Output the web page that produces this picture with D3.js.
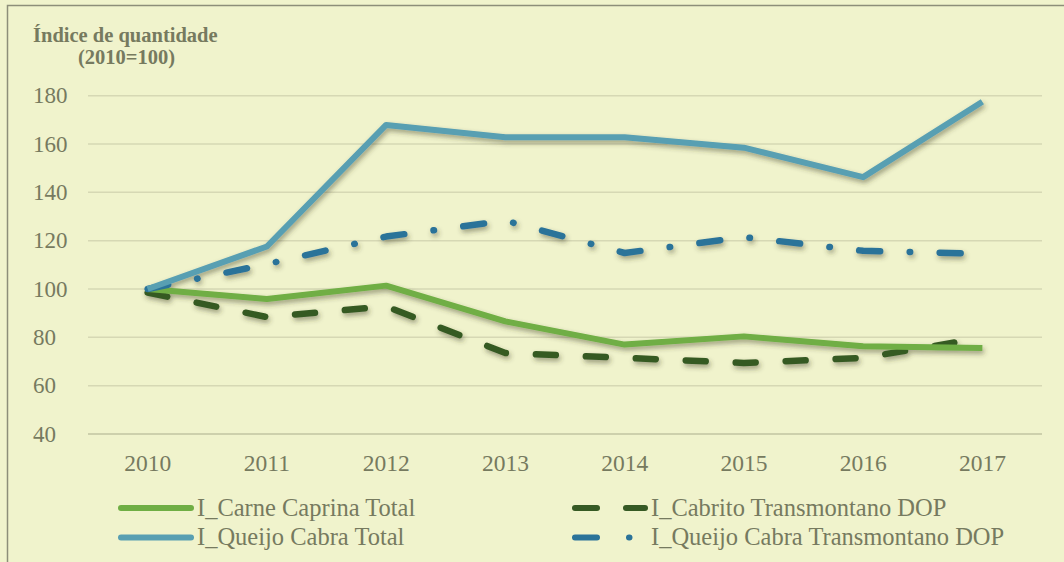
<!DOCTYPE html>
<html>
<head>
<meta charset="UTF-8">
<script src="https://d3js.org/d3.v7.min.js"></script>
</head>
<body style="margin:0;background:#f0f3cc">
<svg id="chart" width="1064" height="562"></svg>
<script>
// data
const years = ["2010", "2011", "2012", "2013", "2014", "2015", "2016", "2017"];
const carneCaprinaTotal = [100, 95.9, 101.4, 86.6, 77, 80.4, 76.3, 75.6];
const cabritoTransmontano = [98.5, 88.4, 92.8, 73.5, 71.5, 69.4, 71.5, 79.8];
const queijoCabraTotal = [100, 117.6, 167.9, 162.8, 162.8, 158.5, 146.3, 177.5];
const queijoCabraTransmontano = [100, 110.3, 121.7, 128.3, 114.9, 121.5, 115.8, 114.6];
const yTicks = [40, 60, 80, 100, 120, 140, 160, 180];

const series = [
    { name: "I_Carne Caprina Total", values: carneCaprinaTotal, color: "#6fae44", dash: null },
    { name: "I_Cabrito Transmontano DOP", values: cabritoTransmontano, color: "#365a24", dash: "20,30" },
    { name: "I_Queijo Cabra Total", values: queijoCabraTotal, color: "#589fb2", dash: null },
    { name: "I_Queijo Cabra Transmontano DOP", values: queijoCabraTransmontano, color: "#2b7399", dash: "21,29.5,0.5,29.5" }
];

const font = "'Liberation Serif', serif";
const textColor = "#767a5f";

const svg = d3.select("#chart");

// shadow under the lines
const defs = svg.append("defs");
defs.append("filter").attr("id", "shadow")
    .attr("x", "-10%").attr("y", "-10%").attr("width", "120%").attr("height", "130%")
    .append("feDropShadow")
    .attr("dx", 1.5).attr("dy", 3).attr("stdDeviation", 2.5)
    .attr("flood-color", "#3a3a20").attr("flood-opacity", 0.45);

// outer frame
svg.append("rect")
    .attr("x", 7.5).attr("y", 5.5).attr("width", 1070).attr("height", 570)
    .attr("fill", "none").attr("stroke", "#8d8e79").attr("stroke-width", 1.5);

const x = d3.scaleBand().domain(years).range([88, 1042]);
const y = d3.scaleLinear().domain([40, 180]).range([434, 95.7]);

// gridlines
svg.append("g").selectAll("line")
    .data(yTicks)
    .join("line")
    .attr("x1", 88).attr("x2", 1042)
    .attr("y1", d => y(d)).attr("y2", d => y(d))
    .attr("stroke", d => d === 40 ? "#cdd0ac" : "#d6d8b4")
    .attr("stroke-width", d => d === 40 ? 2 : 1.5);

// y labels
svg.append("g").selectAll("text")
    .data(yTicks)
    .join("text")
    .attr("x", 33).attr("y", d => y(d) + 7.5)
    .style("font-family", font, "important").style("fill", textColor)
    .style("font-size", "23px")
    .text(d => d);

// x labels
svg.append("g").selectAll("text")
    .data(years)
    .join("text")
    .attr("x", d => x(d) + x.bandwidth() / 2).attr("y", 471)
    .attr("text-anchor", "middle")
    .style("font-family", font, "important").style("fill", textColor)
    .style("font-size", "23.5px")
    .text(d => d);

// axis title
svg.append("text").attr("x", 33).attr("y", 42)
    .style("font-family", font, "important").style("fill", textColor)
    .style("font-size", "20.5px").style("font-weight", "bold").text("Índice de quantidade");
svg.append("text").attr("x", 78).attr("y", 64)
    .style("font-family", font, "important").style("fill", textColor)
    .style("font-size", "20.5px").style("font-weight", "bold").text("(2010=100)");

const line = d3.line()
    .x((d, i) => x(years[i]) + x.bandwidth() / 2)
    .y(d => y(d));

// draw order: greens first, then blues on top like the reference
const drawOrder = [1, 0, 3, 2];
svg.append("g").attr("filter", "url(#shadow)")
    .selectAll("path")
    .data(drawOrder.map(i => series[i]))
    .join("path")
    .attr("d", d => line(d.values))
    .attr("fill", "none")
    .attr("stroke", d => d.color)
    .attr("stroke-width", d => d.dash ? 6.5 : 6)
    .attr("stroke-linecap", d => d.dash ? "round" : "butt")
    .attr("stroke-linejoin", "round")
    .attr("stroke-dasharray", d => d.dash);

// legend
const legendPos = [
    { lx: 118, ly: 508 }, { lx: 572, ly: 508 },
    { lx: 118, ly: 537.5 }, { lx: 572, ly: 537.5 }
];
const legend = svg.append("g").selectAll("g")
    .data(series)
    .join("g")
    .attr("transform", (d, i) => `translate(${legendPos[i].lx},${legendPos[i].ly})`);

legend.append("line")
    .attr("x1", 3).attr("x2", 73)
    .attr("stroke", d => d.color)
    .attr("stroke-width", 6)
    .attr("stroke-linecap", "round")
    .attr("stroke-dasharray", d => d.dash ? (d.dash.split(",").length > 2 ? "22,32,0.5,60" : "22,29") : null);

legend.append("text")
    .attr("x", 79).attr("y", 7.5)
    .style("font-family", font, "important").style("fill", textColor)
    .style("font-size", "24.5px")
    .text(d => d.name);
</script>
</body>
</html>
